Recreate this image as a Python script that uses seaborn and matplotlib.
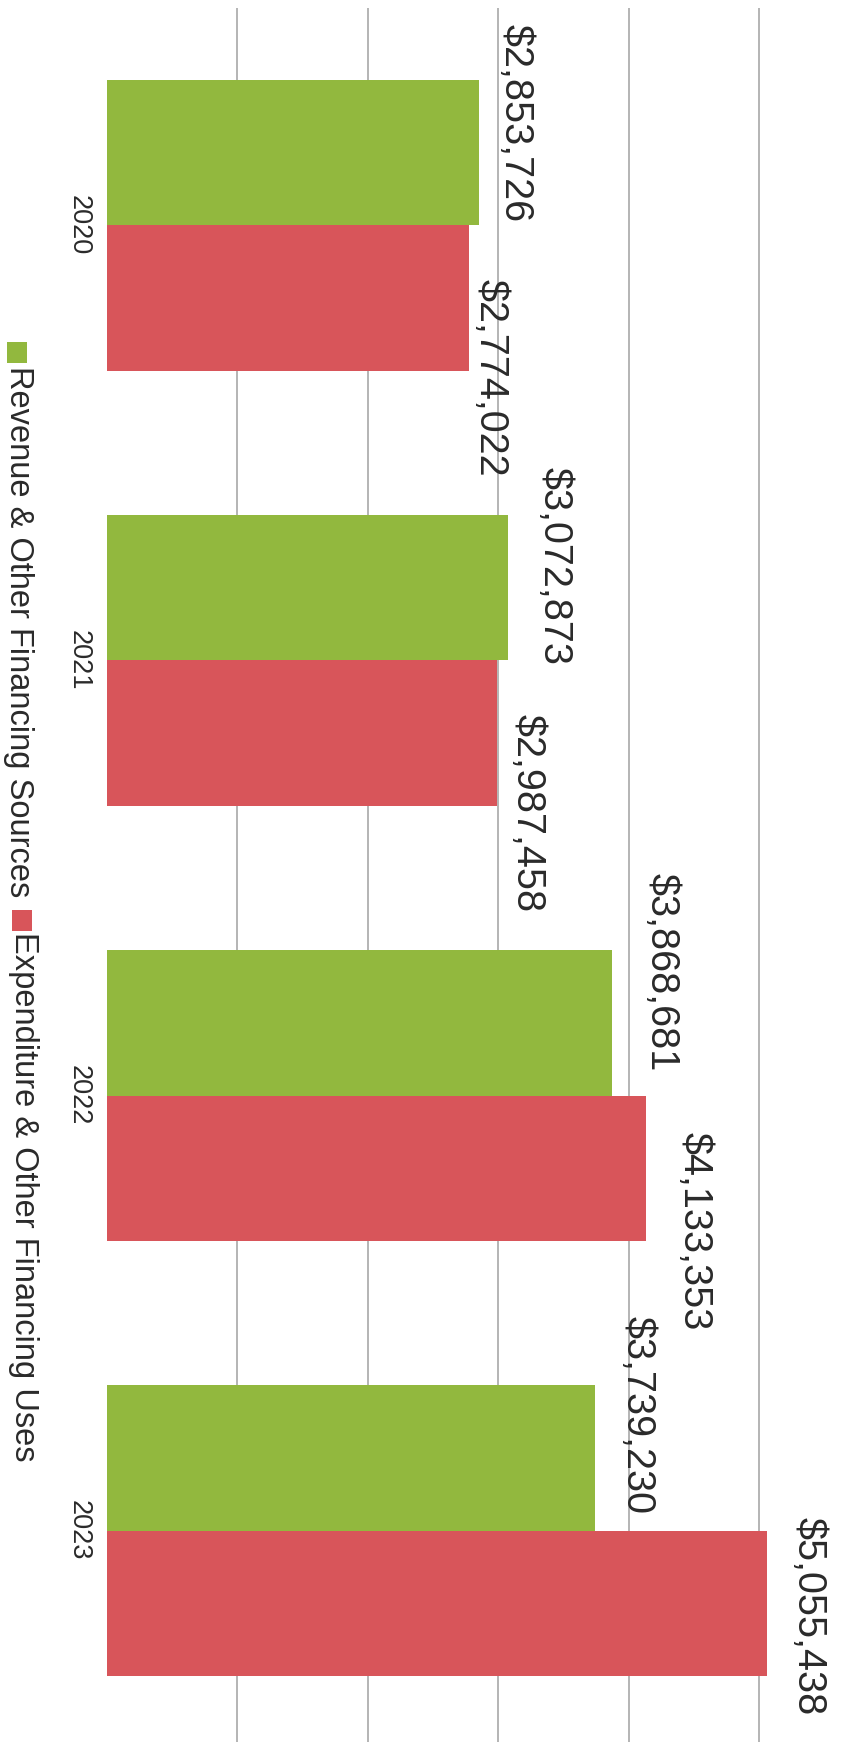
import matplotlib
matplotlib.use("Agg")
import matplotlib.pyplot as plt
from matplotlib.patches import Rectangle
import seaborn as sns
import pandas as pd

# Fiscal years and the two series shown for each
years = ["2020", "2021", "2022", "2023"]
revenue = [2853726, 3072873, 3868681, 3739230]
expenditure = [2774022, 2987458, 4133353, 5055438]
series_names = ["Revenue & Other Financing Sources",
                "Expenditure & Other Financing Uses"]
series_colors = ["#92B83E", "#D8555A"]
grid_ticks = [1_000_000, 2_000_000, 3_000_000, 4_000_000, 5_000_000]

W, H, DPI = 841, 1742, 100

sns.set_theme(style="white")
plt.rcParams["font.family"] = ["Liberation Sans", "DejaVu Sans"]
text_color = "#2a2a2a"

df = pd.DataFrame({
    "Year": years * 2,
    "Amount": revenue + expenditure,
    "Series": [series_names[0]] * len(years) + [series_names[1]] * len(years),
})

fig = plt.figure(figsize=(W / DPI, H / DPI), dpi=DPI)
fig.patch.set_facecolor("white")

# page is laid out sideways: value axis runs left-to-right, years run downward
x0 = 107
px_per_million = 130.5
ax = fig.add_axes([x0 / W, 0, 1 - x0 / W, 1 - 8 / H])
ax.set_axisbelow(True)

sns.barplot(data=df, x="Amount", y="Year", hue="Series", order=years,
            hue_order=series_names, palette=series_colors, orient="h",
            width=0.667, saturation=1, linewidth=0, legend=False, ax=ax)

ax.set_xlim(0, (W - x0) / px_per_million * 1e6)
ax.set_ylim(-0.5 + (H - 8) / 435.0, -0.5)

ax.set_xticks(grid_ticks)
ax.xaxis.grid(True, color="#A8A8A8", linewidth=1.2)
ax.yaxis.grid(False)
ax.tick_params(axis="x", labelbottom=False, length=0)
ax.set_xlabel("")
ax.set_ylabel("")
for s in ax.spines.values():
    s.set_visible(False)

ax.set_yticks(range(len(years)))
ax.set_yticklabels(years, rotation=-90, va="center", ha="right",
                   fontsize=19.5, color=text_color)
ax.tick_params(axis="y", length=0, pad=11)

# value labels, nudged (pixels) so neighbouring labels stay clear of each other
label_nudge = [
    [(17, 30), (28, 22), (31, 51), (24, 43)],
    [(3, -80), (12, -80), (29, -63), (23, -13)],
]
for container, values, nudges in zip(ax.containers, [revenue, expenditure], label_nudge):
    for bar, v, (dx, dy) in zip(container, values, nudges):
        yc = bar.get_y() + bar.get_height() / 2
        ax.annotate(f"${v:,.0f}", xy=(v, yc), xytext=(dx, dy),
                    textcoords="offset pixels", rotation=-90,
                    ha="left", va="center", fontsize=28.5,
                    color=text_color, annotation_clip=False)

# sideways legend along the left edge
legend_layout = [
    # (square x, square y, text x-centre, text top) in pixels from top-left
    (7, 342, 18, 366),
    (12, 910, 23, 932),
]
for name, color, (sx, sy, tx, ty) in zip(series_names, series_colors, legend_layout):
    fig.add_artist(Rectangle((sx / W, 1 - (sy + 21) / H), 20 / W, 21 / H,
                             transform=fig.transFigure, facecolor=color,
                             edgecolor="none"))
    fig.text(tx / W, 1 - ty / H, name, rotation=-90, ha="center", va="top",
             fontsize=23.5, color=text_color)

fig.savefig("out.png", dpi=DPI, facecolor="white")
